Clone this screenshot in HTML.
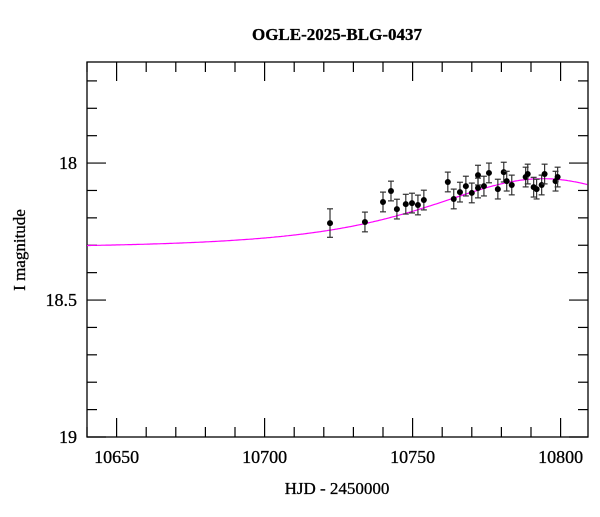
<!DOCTYPE html>
<html><head><meta charset="utf-8"><style>
body{margin:0;background:#fff}
text{font-family:"Liberation Serif",serif;fill:#000;stroke:#000;stroke-width:0.3}
</style></head><body>
<svg id="chart" width="600" height="512" xmlns="http://www.w3.org/2000/svg">
<text x="337" y="40" text-anchor="middle" font-size="17" font-weight="bold">OGLE-2025-BLG-0437</text>
<text x="337" y="494" text-anchor="middle" font-size="17">HJD - 2450000</text>
<text transform="translate(25,250) rotate(-90)" text-anchor="middle" font-size="17">I magnitude</text>
<g id="axes"></g><g id="model"></g><g id="points"></g>
</svg>
<script>
const days=[10722.1,10733.9,10740.0,10742.7,10744.7,10747.7,10749.8,10751.8,10753.8,10761.9,10763.9,10766.0,10768.0,10770.0,10772.1,10772.1,10774.1,10775.8,10778.8,10780.8,10781.8,10783.5,10788.2,10788.9,10790.9,10791.9,10793.6,10794.6,10798.3,10799.0];
const mags=[18.219,18.215,18.142,18.102,18.168,18.150,18.146,18.153,18.135,18.069,18.131,18.106,18.084,18.109,18.044,18.091,18.084,18.036,18.095,18.033,18.066,18.080,18.051,18.040,18.088,18.095,18.080,18.040,18.066,18.051];
const errs=[0.052,0.036,0.036,0.036,0.036,0.036,0.036,0.036,0.036,0.036,0.036,0.036,0.036,0.036,0.036,0.036,0.036,0.036,0.036,0.036,0.036,0.036,0.036,0.036,0.036,0.036,0.036,0.036,0.036,0.036];
const xTicks=[10650,10700,10750,10800];
const yTicks=[18,18.5,19];
const modelT0=10794, modelTE=44, modelU0=1.13, modelBase=18.31;
const L=87,R=588,T=62,B=437;
const X0=10640,X1=10809.26,Y0=17.631,Y1=19;
const sx=d=>L+(d-X0)/(X1-X0)*(R-L);
const sy=m=>T+(m-Y0)/(Y1-Y0)*(B-T);
const NS="http://www.w3.org/2000/svg";
function mk(tag,attrs,parent){const e=document.createElementNS(NS,tag);for(const k in attrs)e.setAttribute(k,attrs[k]);parent.appendChild(e);return e;}
const ax=document.getElementById('axes');
const frame=mk('rect',{x:L,y:T,width:R-L,height:B-T,fill:'none',stroke:'#000','stroke-width':1.3},ax);


for(let d=10640;d<=10809;d+=10){const maj=d%50===0;const len=maj?19:10;const x=sx(d);
 const t1=mk('line',{x1:x,x2:x,y1:B,y2:B-len,stroke:'#000','stroke-width':1.2},ax);
 
 
 const t2=mk('line',{x1:x,x2:x,y1:T,y2:T+len,stroke:'#000','stroke-width':1.2},ax);
 
 }
for(let i=0;i<=13;i++){const m=19-i*0.1;if(m<Y0)break;const maj=Math.abs(m*2-Math.round(m*2))<1e-6;const len=maj?19:10;const y=sy(m);
 const t1=mk('line',{x1:L,x2:L+len,y1:y,y2:y,stroke:'#000','stroke-width':1.2},ax);
 
 
 const t2=mk('line',{x1:R,x2:R-len,y1:y,y2:y,stroke:'#000','stroke-width':1.2},ax);
 
 }
xTicks.forEach(d=>{const t=mk('text',{x:sx(d),y:B+26,'text-anchor':'middle','font-size':18},ax);t.textContent=d;
 
 });
yTicks.forEach(m=>{const t=mk('text',{x:L-10,y:sy(m)+6,'text-anchor':'end','font-size':18},ax);t.textContent=m;
 
 });
function A(u){return (u*u+2)/(u*Math.sqrt(u*u+4));}
let pts=[];for(let d=X0;d<=X1;d+=0.5){const tau=(d-modelT0)/modelTE;const u=Math.sqrt(modelU0*modelU0+tau*tau);const m=modelBase-2.5*Math.log10(A(u)/A(100));pts.push(sx(d).toFixed(1)+','+sy(m).toFixed(1));}
const pl=mk('polyline',{points:pts.join(' '),fill:'none',stroke:'#ff00ff','stroke-width':1.2},document.getElementById('model'));


const pg=document.getElementById('points');
days.forEach((d,i)=>{const x=sx(d),y=sy(mags[i]),e=errs[i]*274;
 const g=mk('g',{},pg);
 
 
 mk('line',{x1:x,x2:x,y1:y-e,y2:y+e,stroke:'#333','stroke-width':1.2},g);
 mk('line',{x1:x-3,x2:x+3,y1:y-e,y2:y-e,stroke:'#333','stroke-width':1.2},g);
 mk('line',{x1:x-3,x2:x+3,y1:y+e,y2:y+e,stroke:'#333','stroke-width':1.2},g);
 mk('circle',{cx:x,cy:y,r:3,fill:'#000'},g);});
</script>
</body></html>
